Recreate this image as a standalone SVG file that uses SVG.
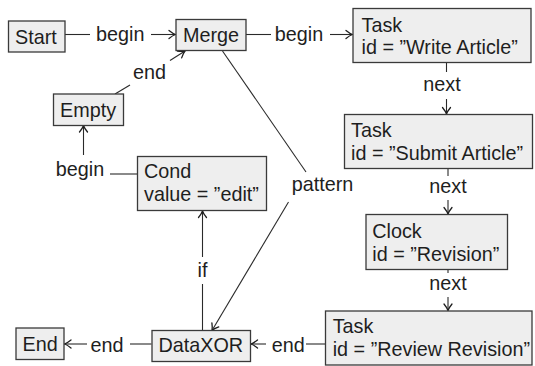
<svg xmlns="http://www.w3.org/2000/svg" width="535" height="366" viewBox="0 0 535 366">
  <style>
    .box { fill: #eeeeee; stroke: #3a3a3a; stroke-width: 1.3; }
    .t { font-family: "Liberation Sans", Arial, sans-serif; font-size: 19.8px; fill: #1e1e1e; }
    .lbl { text-anchor: middle; }
    .edge { fill: none; stroke: #2a2a2a; stroke-width: 1.1; }
    .arr { marker-end: url(#tip); }
  </style>
  <defs>
    <marker id="tip" markerUnits="userSpaceOnUse" markerWidth="12" markerHeight="12" viewBox="-8 -6 10 12" refX="0" refY="0" orient="auto">
      <path d="M -6.5,-4 Q -2.5,-0.8 0,0 Q -2.5,0.8 -6.5,4" fill="none" stroke="#1e1e1e" stroke-width="1.3" stroke-linecap="round"/>
    </marker>
  </defs>

  <rect width="535" height="366" fill="#ffffff"/>

  <!-- connectors and their labels -->
  <g id="connectors">
    <!-- Start -> Merge -->
    <path class="edge" d="M 65,34.5 H 90"/>
    <path class="edge arr" d="M 151,34.5 H 175.5"/>
    <text class="t lbl" x="120.3" y="40.5">begin</text>

    <!-- Merge -> Task Write Article -->
    <path class="edge" d="M 246,34.5 H 271"/>
    <path class="edge arr" d="M 330,34.5 H 352.5"/>
    <text class="t lbl" x="299" y="40.5">begin</text>

    <!-- Empty -> Merge -->
    <path class="edge" d="M 115,94 L 130,85"/>
    <path class="edge arr" d="M 170,60.5 L 185,51"/>
    <text class="t lbl" x="149.5" y="79">end</text>

    <!-- Cond -> Empty -->
    <path class="edge" d="M 137.5,174 H 110"/>
    <path class="edge arr" d="M 83.5,155 V 125.5"/>
    <text class="t lbl" x="80" y="175.7">begin</text>

    <!-- Task Write Article -> Task Submit Article -->
    <path class="edge" d="M 446.5,63 V 72"/>
    <path class="edge arr" d="M 446.5,99 V 114"/>
    <text class="t lbl" x="442" y="90.5">next</text>

    <!-- Task Submit Article -> Clock -->
    <path class="edge" d="M 448,168.5 V 176"/>
    <path class="edge arr" d="M 448,200 V 214"/>
    <text class="t lbl" x="448" y="193.3">next</text>

    <!-- Clock -> Task Review Revision -->
    <path class="edge" d="M 448,269.5 V 273"/>
    <path class="edge arr" d="M 448,297 V 310.5"/>
    <text class="t lbl" x="448" y="290">next</text>

    <!-- Merge -> DataXOR -->
    <path class="edge" d="M 222.5,51 L 306,172"/>
    <path class="edge arr" d="M 288.5,202 L 212,330.5"/>
    <text class="t lbl" x="322.5" y="190.5">pattern</text>

    <!-- DataXOR -> Cond -->
    <path class="edge" d="M 202.5,330.5 V 284"/>
    <path class="edge arr" d="M 202.5,257 V 211"/>
    <text class="t lbl" x="202.5" y="277.3">if</text>

    <!-- DataXOR -> End -->
    <path class="edge" d="M 151.5,344 H 130"/>
    <path class="edge arr" d="M 87,344 H 64.5"/>
    <text class="t lbl" x="107" y="351.5">end</text>

    <!-- Task Review Revision -> DataXOR -->
    <path class="edge" d="M 325.5,344 H 306"/>
    <path class="edge arr" d="M 266,344 H 251"/>
    <text class="t lbl" x="288.3" y="351.5">end</text>
  </g>

  <!-- nodes -->
  <g id="start">
    <rect class="box" x="8.5" y="21" width="56.5" height="31"/>
    <text class="t" x="15" y="44">Start</text>
  </g>
  <g id="merge">
    <rect class="box" x="176" y="19.5" width="70" height="31"/>
    <text class="t" x="183" y="42">Merge</text>
  </g>
  <g id="task-write">
    <rect class="box" x="353" y="8.5" width="178" height="54"/>
    <text class="t" x="361.5" y="31.7">Task</text>
    <text class="t" x="361.5" y="54">id = ”Write Article”</text>
  </g>
  <g id="task-submit">
    <rect class="box" x="344.5" y="114.5" width="188" height="54"/>
    <text class="t" x="351" y="137.3">Task</text>
    <text class="t" x="351" y="159.5">id = ”Submit Article”</text>
  </g>
  <g id="clock">
    <rect class="box" x="366" y="214.5" width="141.5" height="55"/>
    <text class="t" x="372.3" y="238.3">Clock</text>
    <text class="t" x="372.3" y="261">id = ”Revision”</text>
  </g>
  <g id="task-review">
    <rect class="box" x="325.5" y="311" width="206.5" height="54"/>
    <text class="t" x="332.7" y="333.3">Task</text>
    <text class="t" x="332.7" y="355.7">id = ”Review Revision”</text>
  </g>
  <g id="empty">
    <rect class="box" x="53.5" y="94" width="70" height="31.5"/>
    <text class="t" x="60" y="117">Empty</text>
  </g>
  <g id="cond">
    <rect class="box" x="137.5" y="156.5" width="129" height="54"/>
    <text class="t" x="144" y="178.3">Cond</text>
    <text class="t" x="144" y="200.5">value = ”edit”</text>
  </g>
  <g id="dataxor">
    <rect class="box" x="152" y="330.5" width="98.5" height="31"/>
    <text class="t" x="158.5" y="351.7">DataXOR</text>
  </g>
  <g id="end">
    <rect class="box" x="16" y="328" width="48" height="31.5"/>
    <text class="t" x="22.5" y="350.7">End</text>
  </g>
</svg>
